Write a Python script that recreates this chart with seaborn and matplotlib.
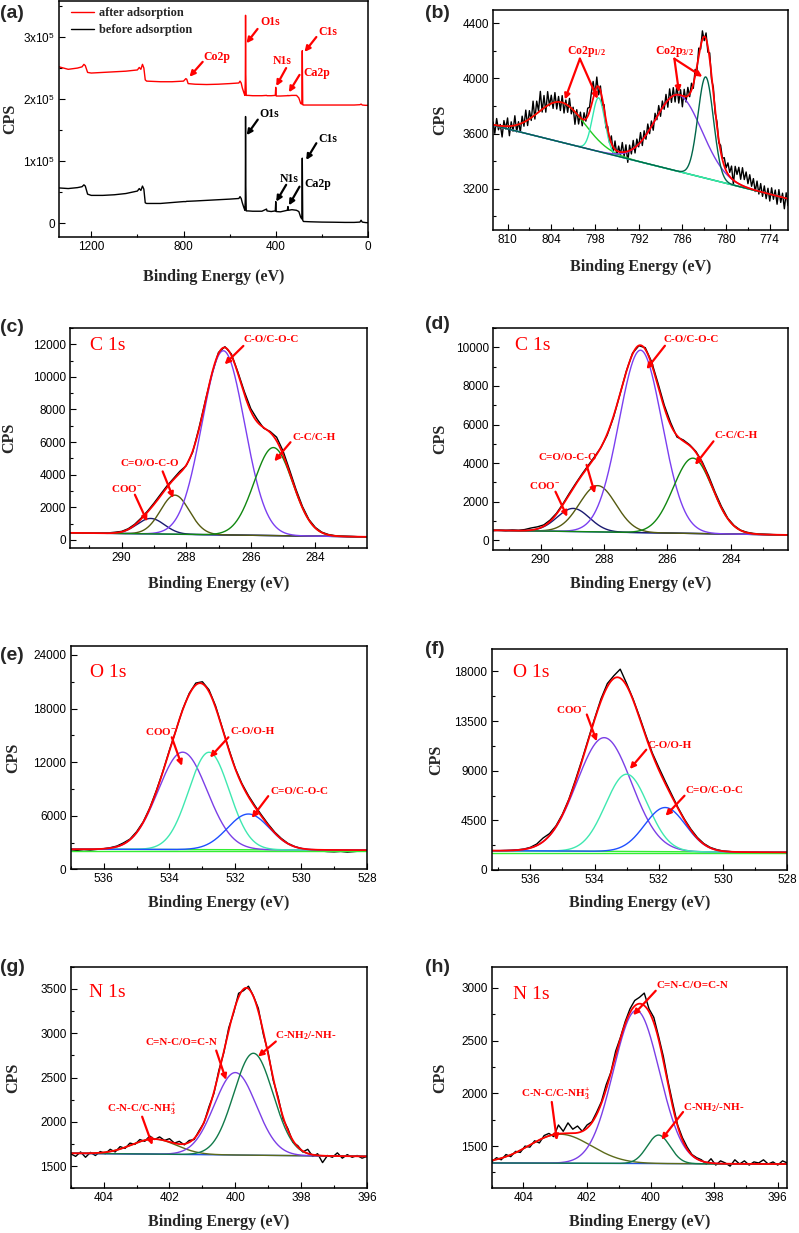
import numpy as np
import pandas as pd
import matplotlib
matplotlib.use('Agg')
import matplotlib.pyplot as plt
import seaborn as sns
from matplotlib.lines import Line2D
from matplotlib.ticker import MultipleLocator, FixedLocator, FixedFormatter

sns.set_style("ticks")
plt.rcParams['font.family'] = ['Liberation Sans', 'DejaVu Sans']
plt.rcParams['mathtext.fontset'] = 'custom'
plt.rcParams['mathtext.rm'] = 'Liberation Serif:bold'
plt.rcParams['mathtext.it'] = 'Liberation Serif:bold'
plt.rcParams['mathtext.bf'] = 'Liberation Serif:bold'
plt.rcParams['mathtext.sf'] = 'Liberation Sans'
SERIF = ['Liberation Serif', 'DejaVu Serif']

# ============================================================
# DATA
# ============================================================
# (a) survey, kCPS
survey_be = [1340, 1300, 1260, 1240, 1232, 1226, 1216, 1200, 1150, 1100, 1050, 1000, 992, 985, 978, 972,
             966, 960, 900, 850, 800, 790, 786, 780, 750, 700, 650, 600, 560, 555, 550, 545, 538, 534,
             532, 531, 530, 528, 520, 500, 460, 440, 438, 420, 402, 400, 398, 380, 350, 347, 345, 330,
             310, 300, 292, 287, 285, 283, 280, 250, 200, 150, 100, 60, 35, 30, 25, 10, 0]
survey_before = [57, 56, 57.5, 59, 62, 60, 47, 45, 45, 46, 48, 52, 56, 53, 60, 55,
                 33, 32, 32, 33.5, 35, 35, 35.5, 35.5, 36, 37, 38, 39, 40, 43, 40, 33, 25, 21,
                 40, 172, 60, 20, 20, 19.5, 19.5, 23, 20, 19, 20, 35, 19, 18.5, 21, 27, 21, 22,
                 21, 19, 10, 7, 105, 5, 3, 2.5, 2, 1.8, 1.5, 1.5, 2, 5, 2, 1.2, 1]
survey_after = [252, 248, 250, 252, 256, 254, 243, 242, 243, 244, 245, 247, 251, 248, 256, 250,
                231, 229, 228, 228, 229, 233, 232, 225, 224, 223.5, 224, 225, 226, 229, 226, 218, 210, 206,
                230, 335, 240, 206, 206, 205.5, 205.5, 206, 205.5, 205.5, 206, 219, 205, 205, 205.5, 206, 205.5, 206,
                206, 202, 193, 192, 278, 191, 190.5, 190.5, 190.5, 190.5, 190.5, 190.5, 191, 192, 190.5, 190, 190]

# measured spectra (first energy, step in eV, counts)
b_raw_start, b_raw_step = 812.0, -0.25
b_raw = [3684, 3601, 3709, 3627, 3666, 3575, 3694, 3633, 3713, 3584, 3685, 3617, 3729, 3612, 3686, 3611,
         3726, 3653, 3770, 3658, 3766, 3695, 3835, 3705, 3835, 3765, 3906, 3756, 3876, 3755, 3904, 3801,
         3878, 3782, 3897, 3778, 3869, 3767, 3875, 3749, 3843, 3754, 3855, 3743, 3791, 3667, 3773, 3669,
         3755, 3656, 3751, 3690, 3784, 3790, 3894, 3978, 3877, 4010, 3881, 3945, 3805, 3810, 3641, 3652,
         3532, 3583, 3462, 3546, 3444, 3509, 3446, 3535, 3435, 3518, 3391, 3516, 3452, 3550, 3459, 3560,
         3503, 3607, 3513, 3620, 3559, 3669, 3599, 3691, 3624, 3747, 3700, 3803, 3725, 3836, 3776, 3884,
         3791, 3924, 3826, 3933, 3829, 3950, 3821, 3918, 3794, 3921, 3829, 3935, 3867, 3965, 3928, 4065,
         4057, 4220, 4212, 4345, 4274, 4330, 4190, 4185, 3993, 3935, 3748, 3685, 3532, 3515, 3420, 3425,
         3351, 3387, 3318, 3364, 3232, 3362, 3303, 3355, 3268, 3352, 3266, 3321, 3236, 3301, 3217, 3273,
         3179, 3255, 3161, 3237, 3144, 3220, 3127, 3203, 3110, 3206, 3123, 3190, 3087, 3193, 3100, 3167,
         3054, 3170, 3077]
c_raw_start, c_raw_step = 291.6, -0.2
c_raw = [410, 440, 400, 430, 420, 440, 430, 470, 520, 680, 950, 1330, 1760, 2250, 2780, 3300,
         3750, 4200, 4550, 5380, 6900, 8600, 10200, 11500, 11850, 11400, 10300, 9100, 8050, 7400,
         6850, 6650, 6300, 5450, 4300, 3100, 2050, 1250, 760, 470, 330, 260, 230, 210, 200, 190, 180]
d_raw_start, d_raw_step = 291.5, -0.2
d_raw = [500, 530, 500, 540, 520, 560, 640, 700, 800, 1050, 1400, 1880, 2420, 2930, 3420, 3880,
         4330, 4800, 5450, 6380, 7550, 8750, 9700, 10080, 9980, 9250, 8150, 7000, 6100, 5350,
         5200, 4950, 4600, 4050, 3330, 2500, 1760, 1150, 770, 530, 420, 360, 330, 310, 300, 290, 280]
e_raw_start, e_raw_step = 537.0, -0.2
e_raw = [2180, 2120, 2200, 2150, 2230, 2310, 2420, 2600, 2950, 3380, 4200, 5300, 6850, 8800, 10950, 13350,
         15600, 17900, 19700, 20850, 21000, 20100, 18300, 15900, 13500, 11300, 9600, 8250, 7100, 6050,
         5050, 4150, 3450, 2900, 2560, 2330, 2200, 2120, 2050, 1980, 1950, 2000, 1920, 1980, 2050, 2100]
f_raw_start, f_raw_step = 537.2, -0.2
f_raw = [1760, 1740, 1770, 1790, 1830, 1900, 2050, 2350, 2900, 3300, 4000, 5050, 6400, 8100, 9900, 11800,
         13700, 15500, 16900, 17600, 18200, 16900, 15500, 13900, 12200, 10600, 9300, 8050, 6850, 5650,
         4600, 3700, 2950, 2400, 2050, 1850, 1720, 1680, 1620, 1650, 1590, 1610, 1560, 1600, 1580, 1610, 1600]
g_raw_start, g_raw_step = 405.0, -0.15
g_raw = [1640, 1610, 1660, 1600, 1655, 1620, 1665, 1640, 1690, 1660, 1720, 1700, 1760, 1745, 1800, 1780,
         1840, 1800, 1830, 1790, 1810, 1760, 1780, 1740, 1790, 1800, 1900, 1990, 2170, 2320, 2580, 2780,
         3060, 3230, 3450, 3480, 3530, 3420, 3280, 2990, 2780, 2470, 2280, 2030, 1920, 1770, 1730, 1660,
         1690, 1610, 1640, 1540, 1620, 1600, 1650, 1590, 1630, 1600, 1620, 1590, 1610]
h_raw_start, h_raw_step = 405.0, -0.15
h_raw = [1350, 1390, 1370, 1420, 1400, 1450, 1440, 1500, 1490, 1550, 1530, 1600, 1620, 1590, 1700, 1640,
         1720, 1660, 1690, 1640, 1700, 1730, 1820, 1920, 2080, 2200, 2400, 2530, 2680, 2800, 2880, 2910,
         2950, 2800, 2720, 2540, 2350, 2110, 1900, 1700, 1580, 1490, 1420, 1390, 1370, 1330, 1380, 1320,
         1360, 1340, 1310, 1370, 1330, 1360, 1320, 1350, 1340, 1370, 1330, 1350, 1320, 1360, 1340]

# fitted components: centre (eV), height above background, FWHM (eV); background end points
b_center = [802.6, 797.5, 786.5, 782.8]
b_height = [290, 390, 555, 735]
b_fwhm = [7.5, 2.0, 7.5, 2.5]
b_bg_be, b_bg_cps = [771.5, 812.0], [3127, 3660]

c_center = [289.1, 288.35, 286.85, 285.3]
c_height = [950, 2400, 11300, 5400]
c_fwhm = [1.0, 1.05, 1.55, 1.4]
c_bg_be, c_bg_cps = [282.4, 291.6], [185, 430]

d_center = [288.97, 288.2, 286.85, 285.2]
d_height = [1200, 2400, 9450, 3900]
d_fwhm = [1.2, 1.35, 1.6, 1.45]
d_bg_be, d_bg_cps = [282.2, 291.5], [280, 520]

e_center = [533.6, 532.8, 531.6]
e_height = [10900, 10900, 4000]
e_fwhm = [1.75, 1.45, 1.5]
e_bg_be, e_bg_cps = [528.0, 537.0], [2150, 2250]
e_flat = 2050

f_center = [533.7, 533.0, 531.8]
f_height = [10300, 7000, 4000]
f_fwhm = [2.0, 1.55, 1.5]
f_bg_be, f_bg_cps = [528.0, 537.2], [1600, 1750]
f_flat = 1500

g_center = [402.47, 400.0, 399.45]
g_height = [170, 930, 1150]
g_fwhm = [1.6, 1.5, 1.4]
g_bg_be, g_bg_cps = [396.0, 405.0], [1610, 1645]

h_center = [402.85, 400.45, 399.75]
h_height = [275, 1450, 270]
h_fwhm = [2.3, 1.7, 0.85]
h_bg_be, h_bg_cps = [395.7, 405.0], [1330, 1340]

# ============================================================
# FIGURE
# ============================================================
W, H = 799, 1233
fig = plt.figure(figsize=(W / 100, H / 100), dpi=100)


def place(l, r, t, b):
    return fig.add_axes([l / W, 1 - b / H, (r - l) / W, (b - t) / H])


def gauss(x, c, h, w):
    return h * np.exp(-4 * np.log(2) * (x - c) ** 2 / w ** 2)


def style(ax, xlim, ylim, xmaj, ymaj, xlab_y, ylab_x):
    ax.set_xlim(*xlim)
    ax.set_ylim(*ylim)
    ax.xaxis.set_major_locator(MultipleLocator(xmaj))
    ax.xaxis.set_minor_locator(MultipleLocator(xmaj / 2))
    ax.yaxis.set_major_locator(MultipleLocator(ymaj))
    ax.yaxis.set_minor_locator(MultipleLocator(ymaj / 2))
    for s in ax.spines.values():
        s.set_visible(True)
        s.set_linewidth(1.1)
        s.set_color('black')
    ax.tick_params(which='both', direction='in', top=False, right=False, labelsize=8.5,
                   width=0.8, colors='black')
    ax.tick_params(which='major', length=4, pad=3)
    ax.tick_params(which='minor', length=2)
    ax.set_xlabel('Binding Energy (eV)', fontsize=11.5, fontweight='bold', family=SERIF)
    ax.set_ylabel('CPS', fontsize=11.5, fontweight='bold', family=SERIF)
    ax.xaxis.set_label_coords(0.5, xlab_y)
    ax.xaxis.label.set_va('center')
    ax.yaxis.set_label_coords(ylab_x, 0.5)
    ax.yaxis.label.set_va('center')


def note(ax, text, pos, start, tips, color='red', fs=8):
    if isinstance(tips[0], (int, float)):
        tips = [tips]
    for tip in tips:
        ax.annotate('', xy=tip, xytext=start,
                    arrowprops=dict(arrowstyle='-|>', color=color, lw=1.6, mutation_scale=8,
                                    shrinkA=0, shrinkB=0))
    ax.text(pos[0], pos[1], text, ha='center', va='center', color=color, fontsize=fs,
            family=SERIF, fontweight='bold')


def raw_line(ax, start, step, counts):
    be = start + step * np.arange(len(counts))
    df = pd.DataFrame({'be': be, 'cps': counts})
    sns.lineplot(data=df, x='be', y='cps', ax=ax, color='black', lw=1.0, sort=False, estimator=None)


def fit_panel(ax, xlim, centers, heights, fwhms, bg_be, bg_cps, colors, bg_color):
    xs = np.linspace(xlim[0], xlim[1], 900)
    bg = np.interp(xs, bg_be, bg_cps)
    ax.plot(xs, bg, color=bg_color, lw=1.0)
    total = bg.copy()
    for c, h, w, col in zip(centers, heights, fwhms, colors):
        comp = gauss(xs, c, h, w)
        total += comp
        ax.plot(xs, bg + comp, color=col, lw=1.0)
    env = pd.DataFrame({'be': xs, 'cps': total})
    sns.lineplot(data=env, x='be', y='cps', ax=ax, color='red', lw=1.3, sort=False, estimator=None)


def elem(ax, text, fx, fy):
    ax.text(fx, fy, text, transform=ax.transAxes, color='red', fontsize=14, family=SERIF,
            ha='left', va='center')


# ---- (a) survey
ax = place(59, 368, 1, 237)
df_a = pd.DataFrame({'be': survey_be, 'before': np.array(survey_before) * 1000,
                     'after': np.array(survey_after) * 1000})
sns.lineplot(data=df_a, x='be', y='after', ax=ax, color='red', lw=1.0, sort=False, estimator=None)
sns.lineplot(data=df_a, x='be', y='before', ax=ax, color='black', lw=1.0, sort=False, estimator=None)
style(ax, (1340, 0), (-22000, 358000), 400, 100000, -0.170, -0.159)
ax.xaxis.set_minor_locator(MultipleLocator(200))
ax.yaxis.set_major_locator(FixedLocator([0, 100000, 200000, 300000]))
ax.yaxis.set_major_formatter(FixedFormatter(['0', r'1x10$^\mathsf{5}$', r'2x10$^\mathsf{5}$', r'3x10$^\mathsf{5}$']))
for t, p, s, tip in [('O1s', (425, 324000), (479, 313000), (527, 290000)),
                     ('C1s', (175, 308000), (224, 300000), (275, 276000)),
                     ('Co2p', (656, 268000), (717, 260000), (774, 236000)),
                     ('N1s', (373, 262000), (355, 250000), (398, 221000)),
                     ('Ca2p', (221, 242000), (297, 239000), (343, 211000))]:
    note(ax, t, p, s, tip, 'red', 8.5)
for t, p, s, tip in [('O1s', (427, 176000), (478, 167000), (526, 142000)),
                     ('C1s', (175, 136000), (224, 129000), (268, 102000)),
                     ('N1s', (344, 71000), (355, 62000), (398, 35000)),
                     ('Ca2p', (219, 63000), (297, 59000), (343, 29000))]:
    note(ax, t, p, s, tip, 'black', 8.5)
handles = [Line2D([], [], color='red', lw=1.0), Line2D([], [], color='black', lw=1.0)]
ax.legend(handles, ['after adsorption', 'before adsorption'], loc='upper left',
          bbox_to_anchor=(0.039, 0.975), frameon=False, handlelength=1.9, handletextpad=0.4,
          labelspacing=0.4, borderaxespad=0, borderpad=0,
          prop={'family': SERIF, 'weight': 'bold', 'size': 8.8})

# ---- (b) Co 2p
ax = place(493, 788, 9.5, 230)
xl = (812, 771.5)
raw_line(ax, b_raw_start, b_raw_step, b_raw)
fit_panel(ax, xl, b_center, b_height, b_fwhm, b_bg_be, b_bg_cps,
          ['#22CC22', '#33E8B0', '#7B3FE6', '#00664A'], '#3B8FD8')
style(ax, xl, (2900, 4500), 6, 400, -0.167, -0.18)
note(ax, r'Co2p$_{\mathrm{1/2}}$', (799.15, 4193), (800.07, 4143), [(802.13, 3847), (797.64, 3852)], fs=8.5)
note(ax, r'Co2p$_{\mathrm{3/2}}$', (787.13, 4193), (787.1, 4143), [(786.47, 3900), (783.26, 4012)], fs=8.5)

# ---- (c) C 1s
ax = place(70, 367, 328, 548)
xl = (291.6, 282.4)
raw_line(ax, c_raw_start, c_raw_step, c_raw)
fit_panel(ax, xl, c_center, c_height, c_fwhm, c_bg_be, c_bg_cps,
          ['#1A1A70', '#555A10', '#7B3FF0', '#118811'], '#2244CC')
style(ax, xl, (-500, 13000), 2, 2000, -0.165, -0.206)
elem(ax, 'C 1s', 0.067, 0.92)
note(ax, 'C-O/C-O-C', (285.36, 12300), (286.23, 11900), (286.81, 10770))
note(ax, 'C-C/C-H', (284.05, 6310), (284.77, 5990), (285.27, 4820))
note(ax, 'C=O/O-C-O', (289.13, 4680), (288.73, 4200), (288.40, 2570))
note(ax, r'COO$^{\mathrm{-}}$', (289.85, 3140), (289.59, 2770), (289.21, 1130))

# ---- (d) C 1s
ax = place(493, 788, 328, 550)
xl = (291.5, 282.2)
raw_line(ax, d_raw_start, d_raw_step, d_raw)
fit_panel(ax, xl, d_center, d_height, d_fwhm, d_bg_be, d_bg_cps,
          ['#1A1A70', '#555A10', '#7B3FF0', '#118811'], '#2244CC')
style(ax, xl, (-500, 11000), 2, 2000, -0.155, -0.18)
elem(ax, 'C 1s', 0.075, 0.92)
note(ax, 'C-O/C-O-C', (285.24, 10380), (286.08, 10080), (286.66, 8870))
note(ax, 'C-C/C-H', (283.85, 5430), (284.55, 5130), (285.13, 3910))
note(ax, 'C=O/O-C-O', (289.13, 4300), (288.55, 3910), (288.29, 2430))
note(ax, r'COO$^{\mathrm{-}}$', (289.87, 2820), (289.53, 2520), (289.16, 1220))

# ---- (e) O 1s
ax = place(70.7, 367, 646, 869.3)
xl = (537, 528)
raw_line(ax, e_raw_start, e_raw_step, e_raw)
ax.axhline(e_flat, color='#33EE33', lw=1.0)
fit_panel(ax, xl, e_center, e_height, e_fwhm, e_bg_be, e_bg_cps,
          ['#7B3FE6', '#3FE8B0', '#1F4FFF'], '#33EE33')
style(ax, xl, (0, 25000), 2, 6000, -0.152, -0.195)
elem(ax, 'O 1s', 0.065, 0.88)
note(ax, r'COO$^{\mathrm{-}}$', (534.28, 15380), (533.93, 14780), (533.62, 11580))
note(ax, 'C-O/O-H', (531.46, 15380), (532.21, 14780), (532.77, 12520))
note(ax, 'C=O/C-O-C', (530.04, 8670), (531.0, 8190), (531.5, 5750))

# ---- (f) O 1s
ax = place(491.7, 787.3, 649.3, 870)
xl = (537.2, 528)
raw_line(ax, f_raw_start, f_raw_step, f_raw)
ax.axhline(f_flat, color='#33EE33', lw=1.0)
fit_panel(ax, xl, f_center, f_height, f_fwhm, f_bg_be, f_bg_cps,
          ['#7B3FE6', '#3FE8B0', '#1F4FFF'], '#33EE33')
style(ax, xl, (0, 20000), 2, 4500, -0.151, -0.186)
elem(ax, 'O 1s', 0.072, 0.895)
note(ax, r'COO$^{\mathrm{-}}$', (534.71, 14545), (534.24, 14090), (533.93, 11660))
note(ax, 'C-O/O-H', (531.67, 11270), (532.39, 10900), (532.9, 9150))
note(ax, 'C=O/C-O-C', (530.28, 7180), (531.2, 6730), (531.79, 4910))

# ---- (g) N 1s
ax = place(70.7, 367, 966.7, 1188.3)
xl = (405, 396)
raw_line(ax, g_raw_start, g_raw_step, g_raw)
fit_panel(ax, xl, g_center, g_height, g_fwhm, g_bg_be, g_bg_cps,
          ['#5C6B1A', '#7B3FE6', '#117A4A'], '#2255DD')
style(ax, xl, (1250, 3750), 2, 500, -0.151, -0.195)
elem(ax, 'N 1s', 0.062, 0.884)
note(ax, 'C=N-C/O=C-N', (401.63, 2891), (400.58, 2804), (400.28, 2473))
note(ax, r'C-NH$_{\mathrm{2}}$/-NH-', (397.85, 2970), (398.77, 2906), (399.31, 2736))
note(ax, r'C-N-C/C-NH$_{\mathrm{3}}^{\mathrm{+}}$', (402.85, 2145), (402.83, 2058), (402.52, 1738))

# ---- (h) N 1s
ax = place(491.7, 787.3, 966.7, 1188.3)
xl = (405, 395.7)
raw_line(ax, h_raw_start, h_raw_step, h_raw)
fit_panel(ax, xl, h_center, h_height, h_fwhm, h_bg_be, h_bg_cps,
          ['#5C6B1A', '#7B3FE6', '#117A4A'], '#2255DD')
style(ax, xl, (1100, 3200), 2, 500, -0.151, -0.175)
elem(ax, 'N 1s', 0.072, 0.875)
note(ax, 'C=N-C/O=C-N', (398.7, 3026), (399.84, 2972), (400.55, 2741))
note(ax, r'C-NH$_{\mathrm{2}}$/-NH-', (398.02, 1863), (398.98, 1823), (399.66, 1561))
note(ax, r'C-N-C/C-NH$_{\mathrm{3}}^{\mathrm{+}}$', (402.98, 1991), (403.11, 1918), (402.95, 1554))

# panel letters
for lab, px, py in [('(a)', 0, 13), ('(b)', 425, 13), ('(c)', 0, 327), ('(d)', 425, 325),
                    ('(e)', 0, 655), ('(f)', 425, 650), ('(g)', 0, 968), ('(h)', 425, 967)]:
    fig.text(px / W, 1 - py / H, lab, fontsize=14, fontweight='bold', ha='left', va='center')

fig.savefig('out.png', dpi=100)
